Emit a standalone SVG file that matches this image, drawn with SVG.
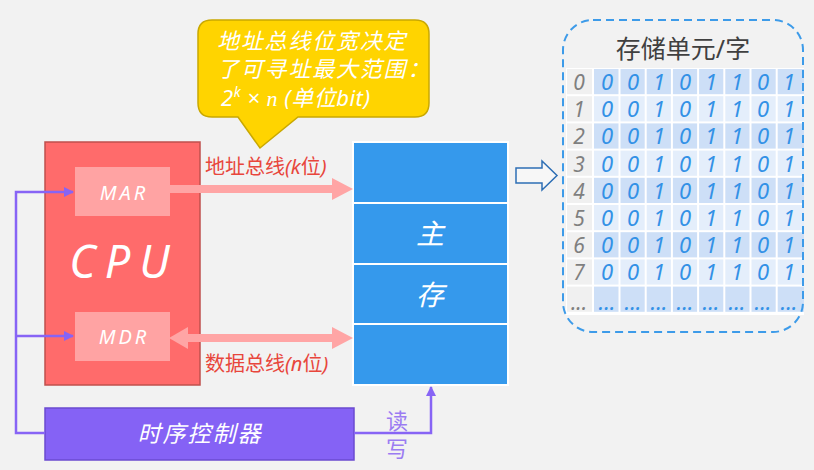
<svg xmlns="http://www.w3.org/2000/svg" width="814" height="470" viewBox="0 0 814 470">
<defs>
<style>
.f{font-family:"Noto Sans","Noto Sans CJK SC",sans-serif}
.it{font-style:italic}
.w{fill:#ffffff}
.mem{fill:#3599ec;stroke:#ffffff;stroke-width:2}
.dk{fill:#cddff7}
.lt{fill:#e4eefb}
.ix{fill:#f0f0f0}
.bit{font-family:"Noto Sans",sans-serif;font-style:italic;font-size:22px;fill:#3391e6;text-anchor:middle}
.idx{font-family:"Noto Sans",sans-serif;font-style:italic;font-size:21px;fill:#7f7f7f;text-anchor:middle}
.pl{fill:none;stroke:#8764f5;stroke-width:2.5}
.bus{stroke:#ffa5a5;stroke-width:8;fill:none}
.busH{fill:#ffa5a5}
.red{fill:#e8463c;font-size:20px}
.rw{font-size:22px;fill:#9b7cf2;text-anchor:middle}
</style>
<marker id="pa" viewBox="0 0 10 10" refX="9" refY="5" markerWidth="4" markerHeight="4" orient="auto" markerUnits="strokeWidth">
<path d="M0,0 L10,5 L0,10 Z" fill="#8764f5"/>
</marker>
</defs>
<rect x="0" y="0" width="814" height="470" fill="#f2f2f2"/>

<g id="callout">
<path d="M212,20 H415 Q429,20 429,34 V103 Q429,117 415,117 H298 L260,148 L238,117 H212 Q198,117 198,103 V34 Q198,20 212,20 Z" fill="#ffd400" stroke="#c9a800" stroke-width="1.5"/>
<g class="f it w" font-size="22" letter-spacing="1.8">
<text x="217" y="49">地址总线位宽决定</text>
<text x="217" y="77">了可寻址最大范围：</text>
<text x="221" y="106" letter-spacing="0.5">2<tspan dy="-9" font-size="14">k</tspan><tspan dy="9"> × </tspan><tspan font-family="Liberation Serif" font-style="italic">n</tspan> (单位bit)</text>
</g>
</g>

<g id="cpu">
<rect x="45" y="142" width="155" height="243" fill="#ff6b6b" stroke="#c0504d" stroke-width="1.5"/>
<text x="124" y="278" class="f it w" font-size="45" letter-spacing="9" text-anchor="middle">CPU</text>
</g>
<g id="mar">
<rect x="75" y="167" width="95" height="49" fill="#ffa3a3"/>
<text x="124" y="200" class="f it w" font-size="20" letter-spacing="3" text-anchor="middle">MAR</text>
</g>
<g id="mdr">
<rect x="75" y="312" width="95" height="49" fill="#ffa3a3"/>
<text x="124" y="344" class="f it w" font-size="20" letter-spacing="3" text-anchor="middle">MDR</text>
</g>

<g id="memory">
<rect class="mem" x="353" y="142" width="155" height="61"/>
<rect class="mem" x="353" y="203" width="155" height="61"/>
<rect class="mem" x="353" y="264" width="155" height="60"/>
<rect class="mem" x="353" y="324" width="155" height="61"/>
<text x="430" y="244" class="f it w" font-size="28" text-anchor="middle">主</text>
<text x="430" y="305" class="f it w" font-size="28" text-anchor="middle">存</text>
</g>

<g id="controller">
<rect x="45" y="408" width="309" height="52" fill="#8562f5" stroke="#6b4bd0" stroke-width="1.5"/>
<text x="200" y="442" class="f it w" font-size="23" letter-spacing="2" text-anchor="middle">时序控制器</text>
</g>

<g id="storage">
<rect x="566" y="68" width="238" height="247" fill="#ffffff"/>
<g id="rows">
<rect class="ix" x="567" y="69" width="25" height="25.2"/>
<rect class="ix" x="567" y="96.2" width="25" height="25.2"/>
<rect class="ix" x="567" y="123.4" width="25" height="25.2"/>
<rect class="ix" x="567" y="150.6" width="25" height="25.2"/>
<rect class="ix" x="567" y="177.8" width="25" height="25.2"/>
<rect class="ix" x="567" y="205" width="25" height="25.2"/>
<rect class="ix" x="567" y="232.2" width="25" height="25.2"/>
<rect class="ix" x="567" y="259.4" width="25" height="25.2"/>
<rect class="ix" x="567" y="286.6" width="25" height="25.2"/>
</g>
<g id="cells">
<rect class="dk" x="594" y="69" width="210" height="25.2"/>
<rect class="lt" x="594" y="96.2" width="210" height="25.2"/>
<rect class="dk" x="594" y="123.4" width="210" height="25.2"/>
<rect class="lt" x="594" y="150.6" width="210" height="25.2"/>
<rect class="dk" x="594" y="177.8" width="210" height="25.2"/>
<rect class="lt" x="594" y="205" width="210" height="25.2"/>
<rect class="dk" x="594" y="232.2" width="210" height="25.2"/>
<rect class="lt" x="594" y="259.4" width="210" height="25.2"/>
<rect class="dk" x="594" y="286.6" width="210" height="25.2"/>
<g stroke="#ffffff" stroke-width="2">
<line x1="619.5" y1="68" x2="619.5" y2="315"/>
<line x1="645.7" y1="68" x2="645.7" y2="315"/>
<line x1="671.9" y1="68" x2="671.9" y2="315"/>
<line x1="698.1" y1="68" x2="698.1" y2="315"/>
<line x1="724.3" y1="68" x2="724.3" y2="315"/>
<line x1="750.5" y1="68" x2="750.5" y2="315"/>
<line x1="776.7" y1="68" x2="776.7" y2="315"/>
</g>
</g>
<g id="idxText">
<text class="idx" x="579" y="90">0</text>
<text class="idx" x="579" y="117.2">1</text>
<text class="idx" x="579" y="144.4">2</text>
<text class="idx" x="579" y="171.6">3</text>
<text class="idx" x="579" y="198.8">4</text>
<text class="idx" x="579" y="226">5</text>
<text class="idx" x="579" y="253.2">6</text>
<text class="idx" x="579" y="280.4">7</text>
<text class="idx" x="579" y="310" font-size="16">...</text>
</g>
<g id="bits">
<text class="bit" y="90"><tspan x="607">0</tspan><tspan x="633">0</tspan><tspan x="659">1</tspan><tspan x="685">0</tspan><tspan x="711">1</tspan><tspan x="737">1</tspan><tspan x="763">0</tspan><tspan x="789">1</tspan></text>
<text class="bit" y="117.2"><tspan x="607">0</tspan><tspan x="633">0</tspan><tspan x="659">1</tspan><tspan x="685">0</tspan><tspan x="711">1</tspan><tspan x="737">1</tspan><tspan x="763">0</tspan><tspan x="789">1</tspan></text>
<text class="bit" y="144.4"><tspan x="607">0</tspan><tspan x="633">0</tspan><tspan x="659">1</tspan><tspan x="685">0</tspan><tspan x="711">1</tspan><tspan x="737">1</tspan><tspan x="763">0</tspan><tspan x="789">1</tspan></text>
<text class="bit" y="171.6"><tspan x="607">0</tspan><tspan x="633">0</tspan><tspan x="659">1</tspan><tspan x="685">0</tspan><tspan x="711">1</tspan><tspan x="737">1</tspan><tspan x="763">0</tspan><tspan x="789">1</tspan></text>
<text class="bit" y="198.8"><tspan x="607">0</tspan><tspan x="633">0</tspan><tspan x="659">1</tspan><tspan x="685">0</tspan><tspan x="711">1</tspan><tspan x="737">1</tspan><tspan x="763">0</tspan><tspan x="789">1</tspan></text>
<text class="bit" y="226"><tspan x="607">0</tspan><tspan x="633">0</tspan><tspan x="659">1</tspan><tspan x="685">0</tspan><tspan x="711">1</tspan><tspan x="737">1</tspan><tspan x="763">0</tspan><tspan x="789">1</tspan></text>
<text class="bit" y="253.2"><tspan x="607">0</tspan><tspan x="633">0</tspan><tspan x="659">1</tspan><tspan x="685">0</tspan><tspan x="711">1</tspan><tspan x="737">1</tspan><tspan x="763">0</tspan><tspan x="789">1</tspan></text>
<text class="bit" y="280.4"><tspan x="607">0</tspan><tspan x="633">0</tspan><tspan x="659">1</tspan><tspan x="685">0</tspan><tspan x="711">1</tspan><tspan x="737">1</tspan><tspan x="763">0</tspan><tspan x="789">1</tspan></text>
<text class="bit" y="310" font-size="16"><tspan x="607">...</tspan><tspan x="633">...</tspan><tspan x="659">...</tspan><tspan x="685">...</tspan><tspan x="711">...</tspan><tspan x="737">...</tspan><tspan x="763">...</tspan><tspan x="789">...</tspan></text>
</g>
<rect x="563" y="20" width="240" height="312" rx="30" fill="none" stroke="#3d9be9" stroke-width="2" stroke-dasharray="8 5"/>
<text x="683" y="58" class="f" font-size="25" fill="#404040" text-anchor="middle">存储单元/字</text>
</g>

<g id="connectors">
<line class="bus" x1="170" y1="189" x2="334" y2="189"/>
<polygon class="busH" points="332,178 353,189 332,200"/>
<line class="bus" x1="186" y1="338" x2="334" y2="338"/>
<polygon class="busH" points="332,327 353,338 332,349"/>
<polygon class="busH" points="188,327 169,338 188,349"/>
<text x="205" y="174" class="f red">地址总线<tspan class="it">(k</tspan>位<tspan class="it">)</tspan></text>
<text x="205" y="371" class="f red">数据总线<tspan class="it">(n</tspan>位<tspan class="it">)</tspan></text>
<path class="pl" d="M45,433 H16 V192 H73" marker-end="url(#pa)"/>
<path class="pl" d="M16,336 H73" marker-end="url(#pa)"/>
<path class="pl" d="M354,433 H431 V387" marker-end="url(#pa)"/>
<text x="397" y="429" class="f rw">读</text>
<text x="397" y="457" class="f rw">写</text>
<polygon points="516,168 542,168 542,161 557,175.5 542,190 542,183 516,183" fill="#f7f7f7" stroke="#2e6fb5" stroke-width="1.5"/>
</g>
</svg>
